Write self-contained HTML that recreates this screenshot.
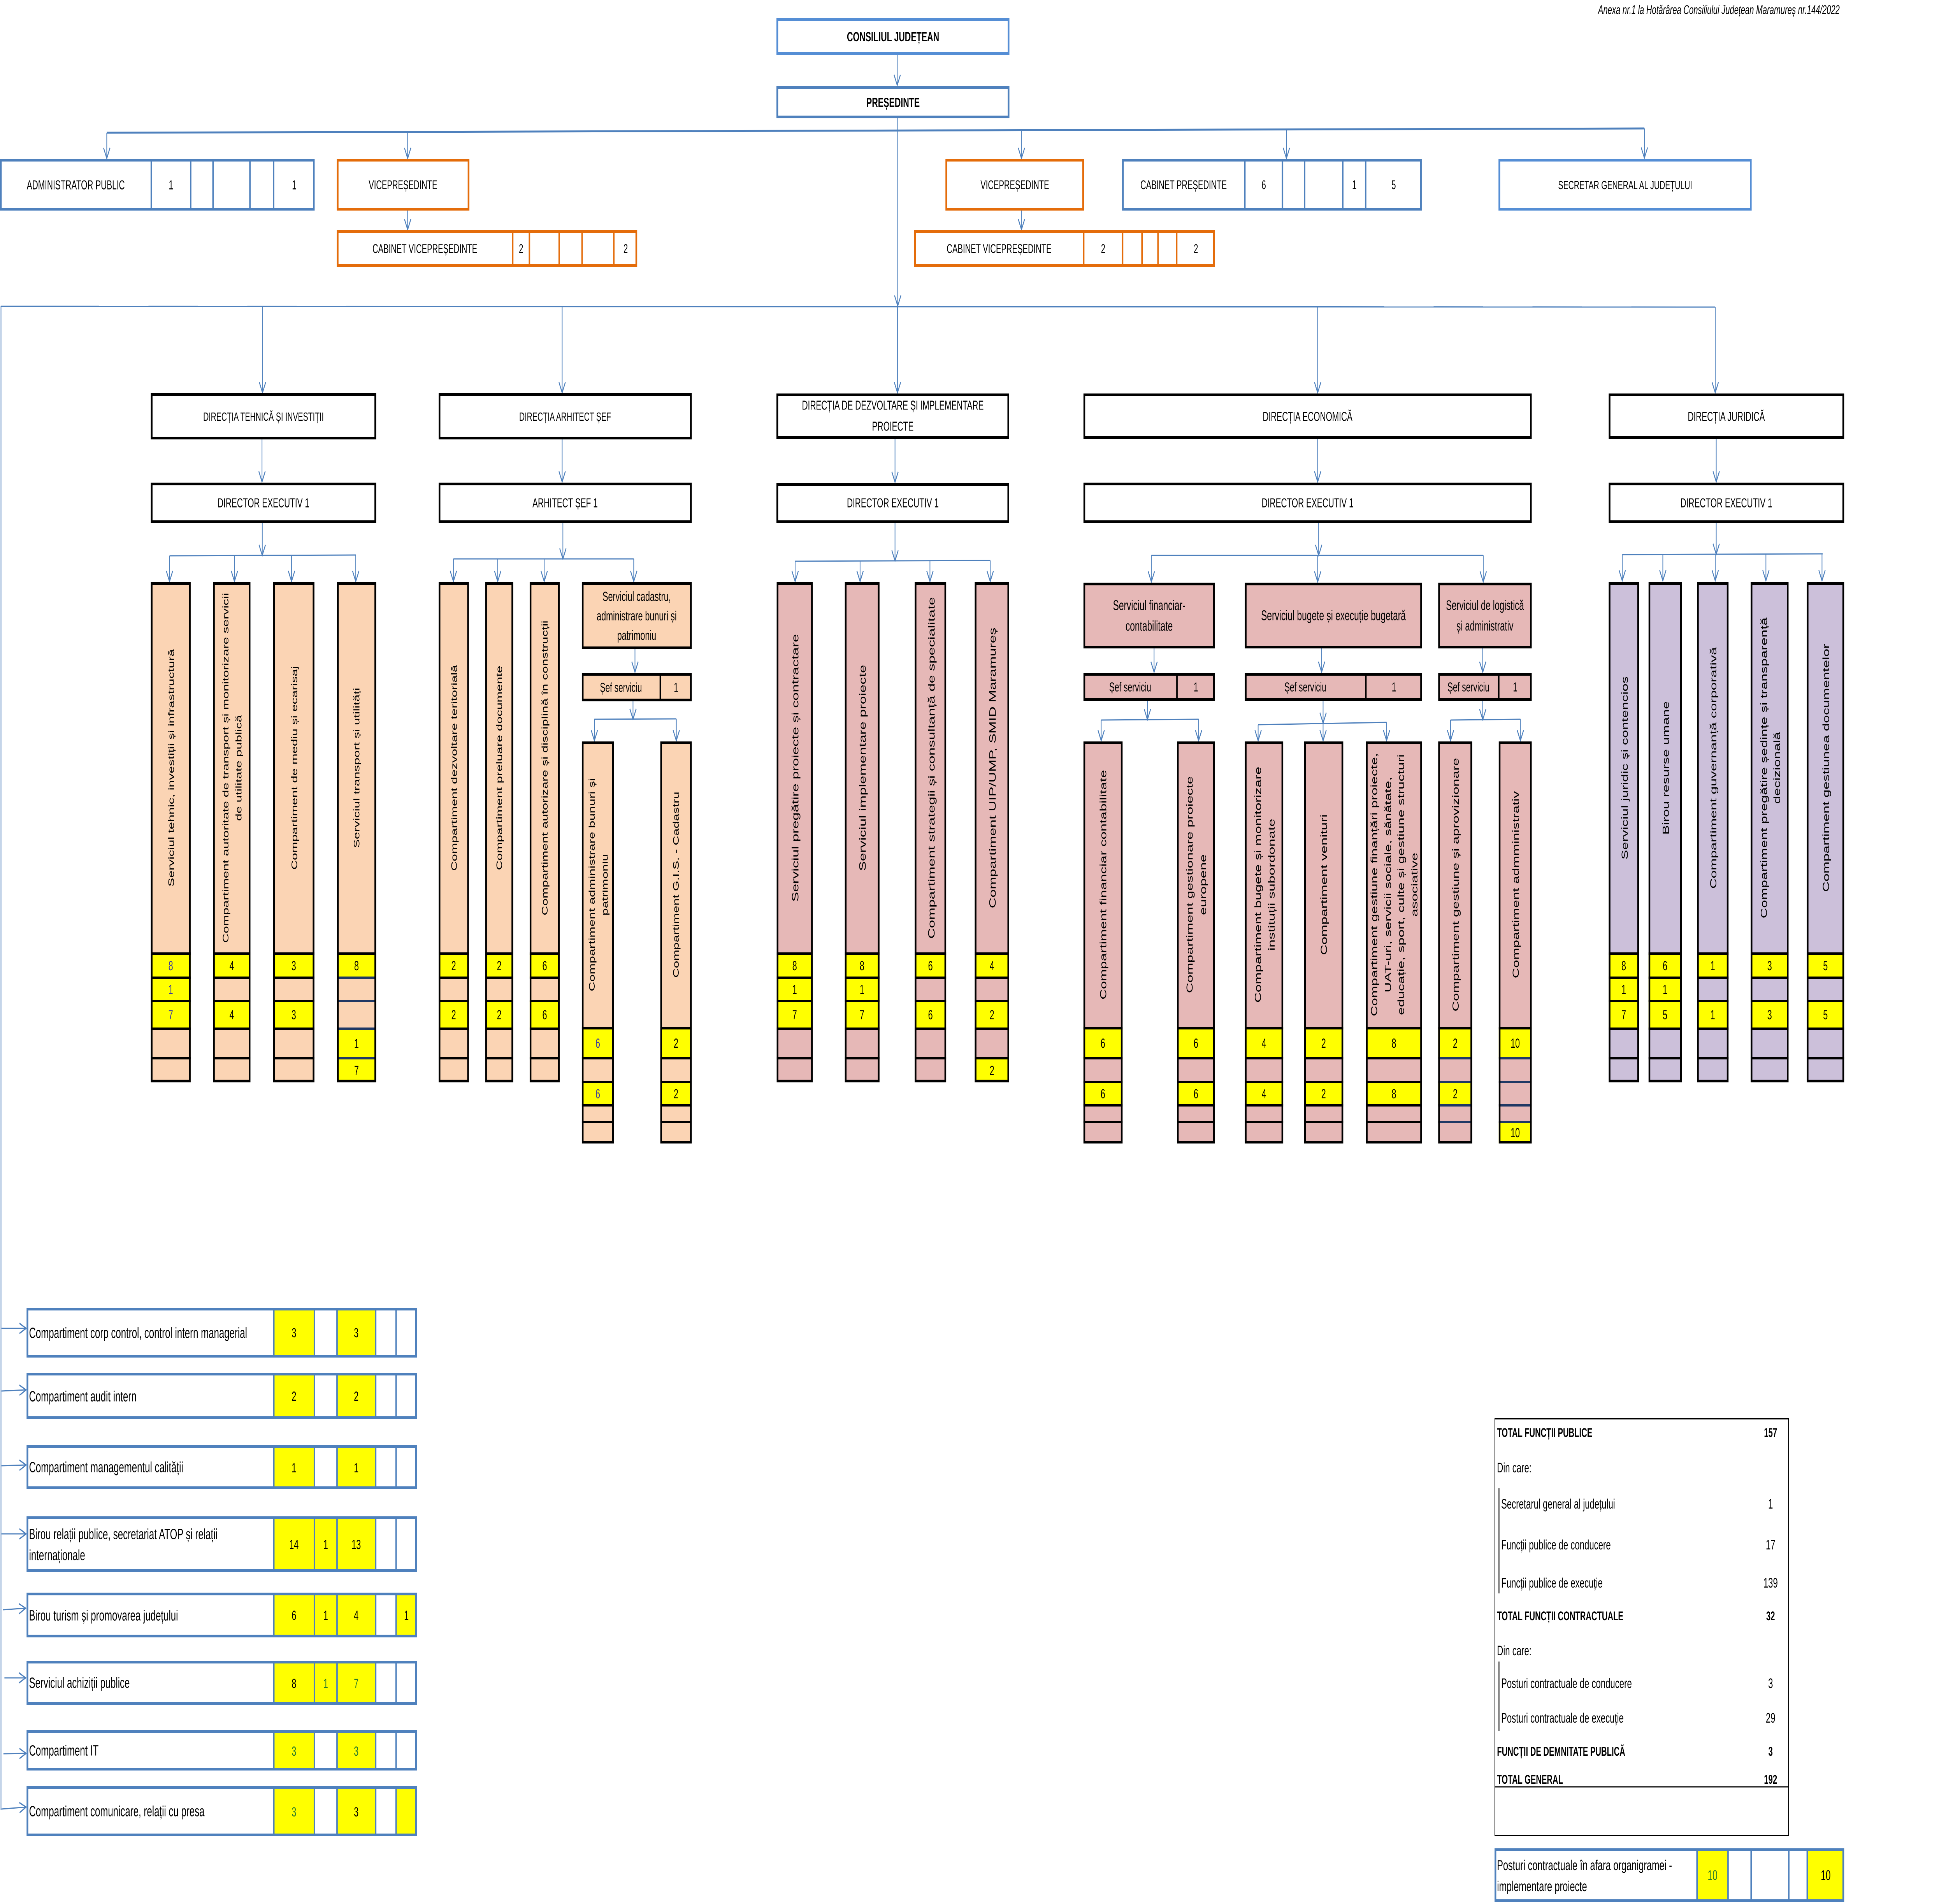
<!DOCTYPE html>
<html>
<head>
<meta charset="utf-8">
<style>
html,body{margin:0;padding:0;background:#fff;overflow:hidden;width:100%;height:100%;}
svg{display:block;width:100vw;height:100vh;}
text{font-family:"Liberation Sans",sans-serif;fill:#000;}
.m{text-anchor:middle;}
</style>
</head>
<body>
<svg xmlns="http://www.w3.org/2000/svg" viewBox="0 0 7910 4892" preserveAspectRatio="none">
<defs>
<marker id="ar" viewBox="0 0 40 30" markerWidth="40" markerHeight="30" refX="31" refY="15" orient="auto" markerUnits="userSpaceOnUse">
<path d="M4 2 L31 15 L4 28" fill="none" stroke="#4f81bd" stroke-width="3.5"/>
</marker>
</defs>
<rect x="0" y="0" width="7910" height="4892" fill="#fff"/>

<!-- annex -->
<text x="7478" y="36" font-size="32" font-style="italic" text-anchor="end">Anexa nr.1  la Hotărârea Consiliului Județean Maramureș nr.144/2022</text>

<!-- CONNECTORS -->
<g stroke="#4f81bd" stroke-width="3" fill="none">
<line x1="3647" y1="141" x2="3647" y2="219" marker-end="url(#ar)"/>
<line x1="3649" y1="304" x2="3649" y2="786" marker-end="url(#ar)"/>
<line x1="3648" y1="789" x2="3648" y2="1009" marker-end="url(#ar)"/>
<line x1="434" y1="341" x2="6684" y2="330" stroke-width="5"/>
<line x1="434" y1="341" x2="434" y2="407" marker-end="url(#ar)"/>
<line x1="1657" y1="339" x2="1657" y2="407" marker-end="url(#ar)"/>
<line x1="4152" y1="335" x2="4152" y2="407" marker-end="url(#ar)"/>
<line x1="5229" y1="333" x2="5229" y2="407" marker-end="url(#ar)"/>
<line x1="6684" y1="330" x2="6684" y2="406" marker-end="url(#ar)"/>
<line x1="1657" y1="541" x2="1657" y2="590" marker-end="url(#ar)"/>
<line x1="4152" y1="541" x2="4152" y2="590" marker-end="url(#ar)"/>

<line x1="3" y1="787" x2="6972" y2="789"/>
<line x1="4" y1="787" x2="4" y2="4650"/>
<line x1="1067" y1="787" x2="1067" y2="1009" marker-end="url(#ar)"/>
<line x1="2285" y1="787" x2="2285" y2="1009" marker-end="url(#ar)"/>
<line x1="5356" y1="788" x2="5356" y2="1009" marker-end="url(#ar)"/>
<line x1="6972" y1="789" x2="6972" y2="1009" marker-end="url(#ar)"/>

<!-- tehnica -->
<line x1="1065" y1="1129" x2="1065" y2="1238" marker-end="url(#ar)"/>
<line x1="1066" y1="1344" x2="1066" y2="1427" marker-end="url(#ar)"/>
<line x1="689" y1="1428" x2="1446" y2="1426"/>
<line x1="689" y1="1428" x2="689" y2="1494" marker-end="url(#ar)"/>
<line x1="953" y1="1428" x2="953" y2="1494" marker-end="url(#ar)"/>
<line x1="1185" y1="1427" x2="1185" y2="1494" marker-end="url(#ar)"/>
<line x1="1446" y1="1426" x2="1446" y2="1494" marker-end="url(#ar)"/>
<!-- arhitect -->
<line x1="2285" y1="1129" x2="2285" y2="1238" marker-end="url(#ar)"/>
<line x1="2288" y1="1344" x2="2288" y2="1436" marker-end="url(#ar)"/>
<line x1="1843" y1="1436" x2="2576" y2="1436"/>
<line x1="1843" y1="1436" x2="1843" y2="1494" marker-end="url(#ar)"/>
<line x1="2023" y1="1436" x2="2023" y2="1494" marker-end="url(#ar)"/>
<line x1="2212" y1="1436" x2="2212" y2="1494" marker-end="url(#ar)"/>
<line x1="2576" y1="1436" x2="2576" y2="1494" marker-end="url(#ar)"/>
<line x1="2581" y1="1668" x2="2581" y2="1727" marker-end="url(#ar)"/>
<line x1="2573" y1="1802" x2="2573" y2="1848" marker-end="url(#ar)"/>
<line x1="2416" y1="1848" x2="2749" y2="1847"/>
<line x1="2416" y1="1848" x2="2416" y2="1903" marker-end="url(#ar)"/>
<line x1="2749" y1="1847" x2="2749" y2="1903" marker-end="url(#ar)"/>
<!-- dezvoltare -->
<line x1="3638" y1="1128" x2="3638" y2="1239" marker-end="url(#ar)"/>
<line x1="3638" y1="1344" x2="3638" y2="1441" marker-end="url(#ar)"/>
<line x1="3232" y1="1442" x2="4025" y2="1440"/>
<line x1="3232" y1="1442" x2="3232" y2="1494" marker-end="url(#ar)"/>
<line x1="3496" y1="1441" x2="3496" y2="1494" marker-end="url(#ar)"/>
<line x1="3780" y1="1441" x2="3780" y2="1494" marker-end="url(#ar)"/>
<line x1="4025" y1="1440" x2="4025" y2="1494" marker-end="url(#ar)"/>
<!-- economica -->
<line x1="5356" y1="1127" x2="5356" y2="1238" marker-end="url(#ar)"/>
<line x1="5360" y1="1344" x2="5360" y2="1427" marker-end="url(#ar)"/>
<line x1="4680" y1="1427" x2="6029" y2="1427"/>
<line x1="4680" y1="1427" x2="4680" y2="1495" marker-end="url(#ar)"/>
<line x1="5356" y1="1427" x2="5356" y2="1495" marker-end="url(#ar)"/>
<line x1="6029" y1="1427" x2="6029" y2="1495" marker-end="url(#ar)"/>
<line x1="4691" y1="1666" x2="4691" y2="1727" marker-end="url(#ar)"/>
<line x1="5372" y1="1666" x2="5372" y2="1727" marker-end="url(#ar)"/>
<line x1="6027" y1="1666" x2="6027" y2="1727" marker-end="url(#ar)"/>
<line x1="4664" y1="1801" x2="4664" y2="1849" marker-end="url(#ar)"/>
<line x1="4476" y1="1850" x2="4872" y2="1848"/>
<line x1="4476" y1="1850" x2="4476" y2="1903" marker-end="url(#ar)"/>
<line x1="4872" y1="1848" x2="4872" y2="1903" marker-end="url(#ar)"/>
<line x1="5378" y1="1801" x2="5378" y2="1858" marker-end="url(#ar)"/>
<line x1="5114" y1="1862" x2="5636" y2="1856"/>
<line x1="5114" y1="1862" x2="5114" y2="1903" marker-end="url(#ar)"/>
<line x1="5378" y1="1859" x2="5378" y2="1903" marker-end="url(#ar)"/>
<line x1="5636" y1="1856" x2="5636" y2="1903" marker-end="url(#ar)"/>
<line x1="6027" y1="1801" x2="6027" y2="1849" marker-end="url(#ar)"/>
<line x1="5896" y1="1850" x2="6180" y2="1848"/>
<line x1="5896" y1="1850" x2="5896" y2="1903" marker-end="url(#ar)"/>
<line x1="6180" y1="1848" x2="6180" y2="1903" marker-end="url(#ar)"/>
<!-- juridica -->
<line x1="6976" y1="1128" x2="6976" y2="1238" marker-end="url(#ar)"/>
<line x1="6976" y1="1344" x2="6976" y2="1424" marker-end="url(#ar)"/>
<line x1="6594" y1="1425" x2="7409" y2="1423"/>
<line x1="6594" y1="1425" x2="6594" y2="1492" marker-end="url(#ar)"/>
<line x1="6759" y1="1425" x2="6759" y2="1492" marker-end="url(#ar)"/>
<line x1="6972" y1="1424" x2="6972" y2="1492" marker-end="url(#ar)"/>
<line x1="7178" y1="1424" x2="7178" y2="1492" marker-end="url(#ar)"/>
<line x1="7406" y1="1423" x2="7406" y2="1492" marker-end="url(#ar)"/>
<!-- left arrows -->
<line x1="6" y1="3413" x2="106" y2="3413" marker-end="url(#ar)"/>
<line x1="6" y1="3574" x2="106" y2="3571" marker-end="url(#ar)"/>
<line x1="6" y1="3766" x2="106" y2="3764" marker-end="url(#ar)"/>
<line x1="6" y1="3941" x2="106" y2="3941" marker-end="url(#ar)"/>
<line x1="12" y1="4136" x2="104" y2="4132" marker-end="url(#ar)"/>
<line x1="18" y1="4311" x2="104" y2="4311" marker-end="url(#ar)"/>
<line x1="14" y1="4506" x2="106" y2="4505" marker-end="url(#ar)"/>
<line x1="6" y1="4648" x2="106" y2="4643" marker-end="url(#ar)"/>
</g>

<!-- TOP BOXES -->
<rect x="3159.5" y="50.5" width="940" height="87" fill="#fff" stroke="#558ed5" stroke-width="7"/>
<text class="m" x="3630" y="94" dy=".35em" font-size="34" font-weight="bold">CONSILIUL JUDEȚEAN</text>
<rect x="3159.5" y="224.5" width="940" height="76" fill="#fff" stroke="#4f81bd" stroke-width="7"/>
<text class="m" x="3630" y="263" dy=".35em" font-size="34" font-weight="bold">PREȘEDINTE</text>

<rect x="3.5" y="411.5" width="1272" height="126" fill="#fff" stroke="#4f81bd" stroke-width="7"/>
<path d="M615 408V541M775 408V541M866 408V541M1016 408V541M1112 408V541" stroke="#4f81bd" stroke-width="6"/>
<text class="m" x="308" y="475" dy=".35em" font-size="33">ADMINISTRATOR PUBLIC</text>
<text class="m" x="695" y="475" dy=".35em" font-size="33">1</text>
<text class="m" x="1196" y="475" dy=".35em" font-size="33">1</text>

<rect x="1372.5" y="411.5" width="532" height="126" fill="#fff" stroke="#e46c0a" stroke-width="7"/>
<text class="m" x="1638" y="475" dy=".35em" font-size="32">VICEPREȘEDINTE</text>
<rect x="1372.5" y="594.5" width="1214" height="88" fill="#fff" stroke="#e46c0a" stroke-width="7"/>
<path d="M2084 591V686M2152 591V686M2273 591V686M2366 591V686M2495 591V686" stroke="#e46c0a" stroke-width="6"/>
<text class="m" x="1727" y="639" dy=".35em" font-size="32">CABINET VICEPREȘEDINTE</text>
<text class="m" x="2118" y="639" dy=".35em" font-size="32">2</text>
<text class="m" x="2543" y="639" dy=".35em" font-size="32">2</text>

<rect x="3846.5" y="411.5" width="556" height="126" fill="#fff" stroke="#e46c0a" stroke-width="7"/>
<text class="m" x="4125" y="475" dy=".35em" font-size="32">VICEPREȘEDINTE</text>
<rect x="3719.5" y="594.5" width="1215" height="88" fill="#fff" stroke="#e46c0a" stroke-width="7"/>
<path d="M4405 591V686M4563 591V686M4642 591V686M4707 591V686M4783 591V686" stroke="#e46c0a" stroke-width="6"/>
<text class="m" x="4061" y="639" dy=".35em" font-size="32">CABINET VICEPREȘEDINTE</text>
<text class="m" x="4484" y="639" dy=".35em" font-size="32">2</text>
<text class="m" x="4861" y="639" dy=".35em" font-size="32">2</text>

<rect x="4564.5" y="411.5" width="1211" height="126" fill="#fff" stroke="#4f81bd" stroke-width="7"/>
<path d="M5060 408V541M5213 408V541M5303 408V541M5458 408V541M5551 408V541" stroke="#4f81bd" stroke-width="6"/>
<text class="m" x="4811" y="475" dy=".35em" font-size="32">CABINET PREȘEDINTE</text>
<text class="m" x="5137" y="475" dy=".35em" font-size="32">6</text>
<text class="m" x="5505" y="475" dy=".35em" font-size="32">1</text>
<text class="m" x="5665" y="475" dy=".35em" font-size="32">5</text>

<rect x="6094.5" y="411.5" width="1022" height="126" fill="#fff" stroke="#558ed5" stroke-width="7"/>
<text class="m" x="6606" y="475" dy=".35em" font-size="31">SECRETAR GENERAL AL JUDEȚULUI</text>

<!-- DIRECTION HEADERS -->
<g fill="#fff" stroke="#000" stroke-width="7">
<rect x="616.5" y="1013.5" width="909" height="112"/>
<rect x="616.5" y="1243.5" width="909" height="97"/>
<rect x="1786.5" y="1013.5" width="1022" height="112"/>
<rect x="1786.5" y="1243.5" width="1022" height="97"/>
<rect x="3159.5" y="1014.5" width="939" height="110"/>
<rect x="3159.5" y="1244.5" width="939" height="96"/>
<rect x="4407.5" y="1014.5" width="1815" height="110"/>
<rect x="4407.5" y="1243.5" width="1815" height="97"/>
<rect x="6542.5" y="1014.5" width="950" height="110"/>
<rect x="6542.5" y="1243.5" width="950" height="97"/>
</g>
<text class="m" x="1071" y="1070" dy=".35em" font-size="31">DIRECȚIA TEHNICĂ ȘI INVESTIȚII</text>
<text class="m" x="1071" y="1292" dy=".35em" font-size="33">DIRECTOR EXECUTIV 1</text>
<text class="m" x="2297" y="1070" dy=".35em" font-size="31">DIRECȚIA ARHITECT ȘEF</text>
<text class="m" x="2297" y="1292" dy=".35em" font-size="33">ARHITECT ȘEF 1</text>
<text class="m" x="3629" y="1041" dy=".35em" font-size="33">DIRECȚIA DE DEZVOLTARE ȘI IMPLEMENTARE</text>
<text class="m" x="3629" y="1095" dy=".35em" font-size="33">PROIECTE</text>
<text class="m" x="3629" y="1292" dy=".35em" font-size="33">DIRECTOR EXECUTIV 1</text>
<text class="m" x="5315" y="1070" dy=".35em" font-size="33">DIRECȚIA ECONOMICĂ</text>
<text class="m" x="5315" y="1292" dy=".35em" font-size="33">DIRECTOR EXECUTIV 1</text>
<text class="m" x="7017" y="1070" dy=".35em" font-size="33">DIRECȚIA JURIDICĂ</text>
<text class="m" x="7017" y="1292" dy=".35em" font-size="33">DIRECTOR EXECUTIV 1</text>

<!-- ARHITECT cadastru -->
<rect x="2368.5" y="1499.5" width="440" height="165" fill="#fbd4b4" stroke="#000" stroke-width="7"/>
<text class="m" x="2588" y="1532" dy=".35em" font-size="34">Serviciul cadastru,</text>
<text class="m" x="2588" y="1582" dy=".35em" font-size="34">administrare bunuri și</text>
<text class="m" x="2588" y="1632" dy=".35em" font-size="34">patrimoniu</text>
<rect x="2368.5" y="1732.5" width="440" height="66" fill="#fbd4b4" stroke="#000" stroke-width="7"/>
<path d="M2684 1729V1802" stroke="#000" stroke-width="6"/>
<text class="m" x="2524" y="1766" dy=".35em" font-size="33">Șef serviciu</text>
<text class="m" x="2748" y="1766" dy=".35em" font-size="33">1</text>

<!-- ECONOMICA services -->
<g fill="#e6b8b7" stroke="#000" stroke-width="7">
<rect x="4407.5" y="1500.5" width="527" height="162"/>
<rect x="5063.5" y="1500.5" width="713" height="162"/>
<rect x="5849.5" y="1500.5" width="373" height="162"/>
<rect x="4407.5" y="1732.5" width="527" height="65"/>
<rect x="5063.5" y="1732.5" width="713" height="65"/>
<rect x="5849.5" y="1732.5" width="373" height="65"/>
</g>
<path d="M4784 1729V1801M5552 1729V1801M6092 1729V1801" stroke="#000" stroke-width="6"/>
<text class="m" x="4671" y="1555" dy=".35em" font-size="36">Serviciul financiar-</text>
<text class="m" x="4671" y="1608" dy=".35em" font-size="36">contabilitate</text>
<text class="m" x="5420" y="1581" dy=".35em" font-size="36">Serviciul bugete și execuție bugetară</text>
<text class="m" x="6036" y="1555" dy=".35em" font-size="35">Serviciul de logistică</text>
<text class="m" x="6036" y="1608" dy=".35em" font-size="35">și administrativ</text>
<text class="m" x="4594" y="1765" dy=".35em" font-size="33">Șef serviciu</text>
<text class="m" x="4861" y="1765" dy=".35em" font-size="33">1</text>
<text class="m" x="5306" y="1765" dy=".35em" font-size="33">Șef serviciu</text>
<text class="m" x="5666" y="1765" dy=".35em" font-size="33">1</text>
<text class="m" x="5969" y="1765" dy=".35em" font-size="33">Șef serviciu</text>
<text class="m" x="6159" y="1765" dy=".35em" font-size="33">1</text>

<!-- ===== COLUMNS GROUP A (T=1496,B=2781) ===== -->
<!-- c1 -->
<rect x="613" y="1496" width="162" height="1285" fill="#fbd4b4"/>
<rect x="613" y="2450" width="162" height="193" fill="#ff0"/>
<path d="M613 2450H775M613 2512H775M613 2572H775M613 2643H775M613 2719H775" stroke="#000" stroke-width="6"/>
<rect x="616.5" y="1499.5" width="155" height="1278" fill="none" stroke="#000" stroke-width="7"/>
<text class="m" font-size="34" transform="translate(695,1973) rotate(-90)" dy=".35em">Serviciul tehnic, investiții și infrastructură</text>
<g class="m" font-size="34"><text x="694" y="2481" dy=".35em" style="fill:#3a3aa0">8</text><text x="694" y="2542" dy=".35em" style="fill:#3a3aa0">1</text><text x="694" y="2607" dy=".35em" style="fill:#3a3aa0">7</text></g>
<!-- c2 -->
<rect x="866" y="1496" width="152" height="1285" fill="#fbd4b4"/>
<rect x="866" y="2450" width="152" height="62" fill="#ff0"/>
<rect x="866" y="2572" width="152" height="71" fill="#ff0"/>
<path d="M866 2450H1018M866 2512H1018M866 2572H1018M866 2643H1018M866 2719H1018" stroke="#000" stroke-width="6"/>
<rect x="869.5" y="1499.5" width="145" height="1278" fill="none" stroke="#000" stroke-width="7"/>
<text class="m" font-size="34" transform="translate(917,1973) rotate(-90)" dy=".35em">Compartiment autoritate de transport și monitorizare servicii</text>
<text class="m" font-size="34" transform="translate(970,1973) rotate(-90)" dy=".35em">de utilitate publică</text>
<g class="m" font-size="34"><text x="942" y="2481" dy=".35em">4</text><text x="942" y="2607" dy=".35em">4</text></g>
<!-- c3 -->
<rect x="1110" y="1496" width="168" height="1285" fill="#fbd4b4"/>
<rect x="1110" y="2450" width="168" height="62" fill="#ff0"/>
<rect x="1110" y="2572" width="168" height="71" fill="#ff0"/>
<path d="M1110 2450H1278M1110 2512H1278M1110 2572H1278M1110 2643H1278M1110 2719H1278" stroke="#000" stroke-width="6"/>
<rect x="1113.5" y="1499.5" width="161" height="1278" fill="none" stroke="#000" stroke-width="7"/>
<text class="m" font-size="34" transform="translate(1196,1973) rotate(-90)" dy=".35em">Compartiment de mediu și ecarisaj</text>
<g class="m" font-size="34"><text x="1194" y="2481" dy=".35em">3</text><text x="1194" y="2607" dy=".35em">3</text></g>
<!-- c4 -->
<rect x="1370" y="1496" width="159" height="1285" fill="#fbd4b4"/>
<rect x="1370" y="2450" width="159" height="62" fill="#ff0"/>
<rect x="1370" y="2643" width="159" height="138" fill="#ff0"/>
<path d="M1370 2450H1529" stroke="#000" stroke-width="6"/>
<path d="M1370 2512H1529M1370 2572H1529M1370 2643H1529M1370 2719H1529" stroke="#1f3864" stroke-width="6"/>
<rect x="1373.5" y="1499.5" width="152" height="1278" fill="none" stroke="#000" stroke-width="7"/>
<text class="m" font-size="34" transform="translate(1449,1973) rotate(-90)" dy=".35em">Serviciul  transport și utilități</text>
<g class="m" font-size="34"><text x="1449" y="2481" dy=".35em">8</text><text x="1449" y="2681" dy=".35em">1</text><text x="1449" y="2750" dy=".35em">7</text></g>
<!-- a1 -->
<rect x="1783" y="1496" width="123" height="1285" fill="#fbd4b4"/>
<rect x="1783" y="2450" width="123" height="62" fill="#ff0"/>
<rect x="1783" y="2572" width="123" height="71" fill="#ff0"/>
<path d="M1783 2450H1906M1783 2512H1906M1783 2572H1906M1783 2643H1906M1783 2719H1906" stroke="#000" stroke-width="6"/>
<rect x="1786.5" y="1499.5" width="116" height="1278" fill="none" stroke="#000" stroke-width="7"/>
<text class="m" font-size="34" transform="translate(1845,1973) rotate(-90)" dy=".35em">Compartiment dezvoltare teritorială</text>
<g class="m" font-size="34"><text x="1844" y="2481" dy=".35em">2</text><text x="1844" y="2607" dy=".35em">2</text></g>
<!-- a2 -->
<rect x="1972" y="1496" width="114" height="1285" fill="#fbd4b4"/>
<rect x="1972" y="2450" width="114" height="62" fill="#ff0"/>
<rect x="1972" y="2572" width="114" height="71" fill="#ff0"/>
<path d="M1972 2450H2086M1972 2512H2086M1972 2572H2086M1972 2643H2086M1972 2719H2086" stroke="#000" stroke-width="6"/>
<rect x="1975.5" y="1499.5" width="107" height="1278" fill="none" stroke="#000" stroke-width="7"/>
<text class="m" font-size="34" transform="translate(2029,1973) rotate(-90)" dy=".35em">Compartiment preluare documente</text>
<g class="m" font-size="34"><text x="2029" y="2481" dy=".35em">2</text><text x="2029" y="2607" dy=".35em">2</text></g>
<!-- a3 -->
<rect x="2153" y="1496" width="122" height="1285" fill="#fbd4b4"/>
<rect x="2153" y="2450" width="122" height="62" fill="#ff0"/>
<rect x="2153" y="2572" width="122" height="71" fill="#ff0"/>
<path d="M2153 2450H2275M2153 2512H2275M2153 2572H2275M2153 2643H2275M2153 2719H2275" stroke="#000" stroke-width="6"/>
<rect x="2156.5" y="1499.5" width="115" height="1278" fill="none" stroke="#000" stroke-width="7"/>
<text class="m" font-size="34" transform="translate(2214,1973) rotate(-90)" dy=".35em">Compartiment autorizare și disciplină în construcții</text>
<g class="m" font-size="34"><text x="2214" y="2481" dy=".35em">6</text><text x="2214" y="2607" dy=".35em">6</text></g>

<!-- d1 -->
<rect x="3157" y="1496" width="147" height="1285" fill="#e6b8b7"/>
<rect x="3157" y="2450" width="147" height="193" fill="#ff0"/>
<path d="M3157 2450H3304M3157 2512H3304M3157 2572H3304M3157 2643H3304M3157 2719H3304" stroke="#000" stroke-width="6"/>
<rect x="3160.5" y="1499.5" width="140" height="1278" fill="none" stroke="#000" stroke-width="7"/>
<text class="m" font-size="38" transform="translate(3232,1973) rotate(-90)" dy=".35em">Serviciul pregătire proiecte și contractare</text>
<g class="m" font-size="34"><text x="3230" y="2481" dy=".35em">8</text><text x="3230" y="2542" dy=".35em">1</text><text x="3230" y="2607" dy=".35em">7</text></g>
<!-- d2 -->
<rect x="3434" y="1496" width="141" height="1285" fill="#e6b8b7"/>
<rect x="3434" y="2450" width="141" height="193" fill="#ff0"/>
<path d="M3434 2450H3575M3434 2512H3575M3434 2572H3575M3434 2643H3575M3434 2719H3575" stroke="#000" stroke-width="6"/>
<rect x="3437.5" y="1499.5" width="134" height="1278" fill="none" stroke="#000" stroke-width="7"/>
<text class="m" font-size="38" transform="translate(3506,1973) rotate(-90)" dy=".35em">Serviciul implementare proiecte</text>
<g class="m" font-size="34"><text x="3504" y="2481" dy=".35em">8</text><text x="3504" y="2542" dy=".35em">1</text><text x="3504" y="2607" dy=".35em">7</text></g>
<!-- d3 -->
<rect x="3718" y="1496" width="128" height="1285" fill="#e6b8b7"/>
<rect x="3718" y="2450" width="128" height="62" fill="#ff0"/>
<rect x="3718" y="2572" width="128" height="71" fill="#ff0"/>
<path d="M3718 2450H3846M3718 2512H3846M3718 2572H3846M3718 2643H3846M3718 2719H3846" stroke="#000" stroke-width="6"/>
<rect x="3721.5" y="1499.5" width="121" height="1278" fill="none" stroke="#000" stroke-width="7"/>
<text class="m" font-size="38" transform="translate(3786,1973) rotate(-90)" dy=".35em">Compartiment strategii și consultanță de specialitate</text>
<g class="m" font-size="34"><text x="3782" y="2481" dy=".35em">6</text><text x="3782" y="2607" dy=".35em">6</text></g>
<!-- d4 -->
<rect x="3962" y="1496" width="140" height="1285" fill="#e6b8b7"/>
<rect x="3962" y="2450" width="140" height="62" fill="#ff0"/>
<rect x="3962" y="2572" width="140" height="71" fill="#ff0"/>
<rect x="3962" y="2719" width="140" height="62" fill="#ff0"/>
<path d="M3962 2450H4102M3962 2512H4102M3962 2572H4102M3962 2643H4102M3962 2719H4102" stroke="#000" stroke-width="6"/>
<rect x="3965.5" y="1499.5" width="133" height="1278" fill="none" stroke="#000" stroke-width="7"/>
<text class="m" font-size="38" transform="translate(4034,1973) rotate(-90)" dy=".35em">Compartiment UIP/UMP, SMID Maramureș</text>
<g class="m" font-size="34"><text x="4032" y="2481" dy=".35em">4</text><text x="4032" y="2607" dy=".35em">2</text><text x="4032" y="2750" dy=".35em">2</text></g>

<!-- j1 -->
<rect x="6539" y="1496" width="123" height="1285" fill="#ccc0da"/>
<rect x="6539" y="2450" width="123" height="193" fill="#ff0"/>
<path d="M6539 2450H6662M6539 2512H6662M6539 2572H6662M6539 2643H6662M6539 2719H6662" stroke="#000" stroke-width="6"/>
<rect x="6542.5" y="1499.5" width="116" height="1278" fill="none" stroke="#000" stroke-width="7"/>
<text class="m" font-size="37" transform="translate(6604,1973) rotate(-90)" dy=".35em">Serviciul juridic și contencios</text>
<g class="m" font-size="34"><text x="6600" y="2481" dy=".35em">8</text><text x="6600" y="2542" dy=".35em">1</text><text x="6600" y="2607" dy=".35em">7</text></g>
<!-- j2 -->
<rect x="6701" y="1496" width="135" height="1285" fill="#ccc0da"/>
<rect x="6701" y="2450" width="135" height="193" fill="#ff0"/>
<path d="M6701 2450H6836M6701 2512H6836M6701 2572H6836M6701 2643H6836M6701 2719H6836" stroke="#000" stroke-width="6"/>
<rect x="6704.5" y="1499.5" width="128" height="1278" fill="none" stroke="#000" stroke-width="7"/>
<text class="m" font-size="37" transform="translate(6771,1973) rotate(-90)" dy=".35em">Birou resurse umane</text>
<g class="m" font-size="34"><text x="6768" y="2481" dy=".35em">6</text><text x="6768" y="2542" dy=".35em">1</text><text x="6768" y="2607" dy=".35em">5</text></g>
<!-- j3 -->
<rect x="6898" y="1496" width="128" height="1285" fill="#ccc0da"/>
<rect x="6898" y="2450" width="128" height="62" fill="#ff0"/>
<rect x="6898" y="2572" width="128" height="71" fill="#ff0"/>
<path d="M6898 2450H7026M6898 2512H7026M6898 2572H7026M6898 2643H7026M6898 2719H7026" stroke="#000" stroke-width="6"/>
<rect x="6901.5" y="1499.5" width="121" height="1278" fill="none" stroke="#000" stroke-width="7"/>
<text class="m" font-size="37" transform="translate(6964,1973) rotate(-90)" dy=".35em">Compartiment guvernanță corporativă</text>
<g class="m" font-size="34"><text x="6962" y="2481" dy=".35em">1</text><text x="6962" y="2607" dy=".35em">1</text></g>
<!-- j4 -->
<rect x="7116" y="1496" width="154" height="1285" fill="#ccc0da"/>
<rect x="7116" y="2450" width="154" height="62" fill="#ff0"/>
<rect x="7116" y="2572" width="154" height="71" fill="#ff0"/>
<path d="M7116 2450H7270M7116 2512H7270M7116 2572H7270M7116 2643H7270M7116 2719H7270" stroke="#000" stroke-width="6"/>
<rect x="7119.5" y="1499.5" width="147" height="1278" fill="none" stroke="#000" stroke-width="7"/>
<text class="m" font-size="37" transform="translate(7169,1973) rotate(-90)" dy=".35em">Compartiment pregătire ședințe și transparență</text>
<text class="m" font-size="37" transform="translate(7222,1973) rotate(-90)" dy=".35em">decizională</text>
<g class="m" font-size="34"><text x="7193" y="2481" dy=".35em">3</text><text x="7193" y="2607" dy=".35em">3</text></g>
<!-- j5 -->
<rect x="7344" y="1496" width="152" height="1285" fill="#ccc0da"/>
<rect x="7344" y="2450" width="152" height="62" fill="#ff0"/>
<rect x="7344" y="2572" width="152" height="71" fill="#ff0"/>
<path d="M7344 2450H7496M7344 2512H7496M7344 2572H7496M7344 2643H7496M7344 2719H7496" stroke="#000" stroke-width="6"/>
<rect x="7347.5" y="1499.5" width="145" height="1278" fill="none" stroke="#000" stroke-width="7"/>
<text class="m" font-size="37" transform="translate(7422,1973) rotate(-90)" dy=".35em">Compartiment gestiunea documentelor</text>
<g class="m" font-size="34"><text x="7420" y="2481" dy=".35em">5</text><text x="7420" y="2607" dy=".35em">5</text></g>

<!-- ===== COLUMNS GROUP B (T=1905,B=2938) ===== -->
<!-- b1 -->
<rect x="2365" y="1905" width="130" height="1033" fill="#fbd4b4"/>
<rect x="2365" y="2642" width="130" height="77" fill="#ff0"/>
<rect x="2365" y="2780" width="130" height="60" fill="#ff0"/>
<path d="M2365 2642H2495M2365 2719H2495M2365 2780H2495M2365 2840H2495M2365 2883H2495" stroke="#000" stroke-width="6"/>
<rect x="2368.5" y="1908.5" width="123" height="1026" fill="none" stroke="#000" stroke-width="7"/>
<text class="m" font-size="34" transform="translate(2405,2273) rotate(-90)" dy=".35em">Compartiment administrare bunuri și</text>
<text class="m" font-size="34" transform="translate(2458,2273) rotate(-90)" dy=".35em">patrimoniu</text>
<g class="m" font-size="34"><text x="2430" y="2680" dy=".35em" style="fill:#3a3aa0">6</text><text x="2430" y="2810" dy=".35em" style="fill:#3a3aa0">6</text></g>
<!-- b2 -->
<rect x="2684" y="1905" width="128" height="1033" fill="#fbd4b4"/>
<rect x="2684" y="2642" width="128" height="77" fill="#ff0"/>
<rect x="2684" y="2780" width="128" height="60" fill="#ff0"/>
<path d="M2684 2642H2812M2684 2719H2812M2684 2780H2812M2684 2840H2812M2684 2883H2812" stroke="#000" stroke-width="6"/>
<rect x="2687.5" y="1908.5" width="121" height="1026" fill="none" stroke="#000" stroke-width="7"/>
<text class="m" font-size="34" transform="translate(2747,2273) rotate(-90)" dy=".35em">Compartiment  G.I.S. - Cadastru</text>
<g class="m" font-size="34"><text x="2748" y="2680" dy=".35em">2</text><text x="2748" y="2810" dy=".35em">2</text></g>

<!-- e1 -->
<rect x="4404" y="1905" width="159" height="1033" fill="#e6b8b7"/>
<rect x="4404" y="2642" width="159" height="77" fill="#ff0"/>
<rect x="4404" y="2780" width="159" height="60" fill="#ff0"/>
<path d="M4404 2642H4563M4404 2719H4563M4404 2780H4563M4404 2840H4563M4404 2883H4563" stroke="#000" stroke-width="6"/>
<rect x="4407.5" y="1908.5" width="152" height="1026" fill="none" stroke="#000" stroke-width="7"/>
<text class="m" font-size="37" transform="translate(4484,2273) rotate(-90)" dy=".35em">Compartiment financiar contabilitate</text>
<g class="m" font-size="34"><text x="4483" y="2680" dy=".35em">6</text><text x="4483" y="2810" dy=".35em">6</text></g>
<!-- e2 -->
<rect x="4784" y="1905" width="154" height="1033" fill="#e6b8b7"/>
<rect x="4784" y="2642" width="154" height="77" fill="#ff0"/>
<rect x="4784" y="2780" width="154" height="60" fill="#ff0"/>
<path d="M4784 2642H4938M4784 2719H4938M4784 2780H4938M4784 2840H4938M4784 2883H4938" stroke="#000" stroke-width="6"/>
<rect x="4787.5" y="1908.5" width="147" height="1026" fill="none" stroke="#000" stroke-width="7"/>
<text class="m" font-size="37" transform="translate(4835,2273) rotate(-90)" dy=".35em">Compartiment gestionare proiecte</text>
<text class="m" font-size="37" transform="translate(4890,2273) rotate(-90)" dy=".35em">europene</text>
<g class="m" font-size="34"><text x="4861" y="2680" dy=".35em">6</text><text x="4861" y="2810" dy=".35em">6</text></g>
<!-- e3 -->
<rect x="5060" y="1905" width="156" height="1033" fill="#e6b8b7"/>
<rect x="5060" y="2642" width="156" height="77" fill="#ff0"/>
<rect x="5060" y="2780" width="156" height="60" fill="#ff0"/>
<path d="M5060 2642H5216M5060 2719H5216M5060 2780H5216M5060 2840H5216M5060 2883H5216" stroke="#000" stroke-width="6"/>
<rect x="5063.5" y="1908.5" width="149" height="1026" fill="none" stroke="#000" stroke-width="7"/>
<text class="m" font-size="37" transform="translate(5113,2273) rotate(-90)" dy=".35em">Compartiment bugete și monitorizare</text>
<text class="m" font-size="37" transform="translate(5168,2273) rotate(-90)" dy=".35em">instituții subordonate</text>
<g class="m" font-size="34"><text x="5138" y="2680" dy=".35em">4</text><text x="5138" y="2810" dy=".35em">4</text></g>
<!-- e4 -->
<rect x="5301" y="1905" width="159" height="1033" fill="#e6b8b7"/>
<rect x="5301" y="2642" width="159" height="77" fill="#ff0"/>
<rect x="5301" y="2780" width="159" height="60" fill="#ff0"/>
<path d="M5301 2642H5460M5301 2719H5460M5301 2780H5460M5301 2840H5460M5301 2883H5460" stroke="#000" stroke-width="6"/>
<rect x="5304.5" y="1908.5" width="152" height="1026" fill="none" stroke="#000" stroke-width="7"/>
<text class="m" font-size="37" transform="translate(5381,2273) rotate(-90)" dy=".35em">Compartiment venituri</text>
<g class="m" font-size="34"><text x="5380" y="2680" dy=".35em">2</text><text x="5380" y="2810" dy=".35em">2</text></g>
<!-- e5 -->
<rect x="5552" y="1905" width="228" height="1033" fill="#e6b8b7"/>
<rect x="5552" y="2642" width="228" height="77" fill="#ff0"/>
<rect x="5552" y="2780" width="228" height="60" fill="#ff0"/>
<path d="M5552 2642H5780M5552 2719H5780M5552 2780H5780M5552 2840H5780M5552 2883H5780" stroke="#000" stroke-width="6"/>
<rect x="5555.5" y="1908.5" width="221" height="1026" fill="none" stroke="#000" stroke-width="7"/>
<text class="m" font-size="37" transform="translate(5585,2273) rotate(-90)" dy=".35em">Compartiment gestiune finanțări proiecte,</text>
<text class="m" font-size="37" transform="translate(5641,2273) rotate(-90)" dy=".35em">UAT-uri, servicii sociale, sănătate,</text>
<text class="m" font-size="37" transform="translate(5694,2273) rotate(-90)" dy=".35em">educație, sport, culte și gestiune structuri</text>
<text class="m" font-size="37" transform="translate(5749,2273) rotate(-90)" dy=".35em">asociative</text>
<g class="m" font-size="34"><text x="5666" y="2680" dy=".35em">8</text><text x="5666" y="2810" dy=".35em">8</text></g>
<!-- e6 -->
<rect x="5846" y="1905" width="138" height="1033" fill="#e6b8b7"/>
<rect x="5846" y="2642" width="138" height="77" fill="#ff0"/>
<rect x="5846" y="2780" width="138" height="60" fill="#ff0"/>
<path d="M5846 2642H5984" stroke="#000" stroke-width="6"/>
<path d="M5846 2719H5984M5846 2780H5984M5846 2840H5984M5846 2883H5984" stroke="#1f3864" stroke-width="6"/>
<rect x="5849.5" y="1908.5" width="131" height="1026" fill="none" stroke="#000" stroke-width="7"/>
<text class="m" font-size="37" transform="translate(5916,2273) rotate(-90)" dy=".35em">Compartiment gestiune și aprovizionare</text>
<g class="m" font-size="34"><text x="5915" y="2680" dy=".35em">2</text><text x="5915" y="2810" dy=".35em">2</text></g>
<!-- e7 -->
<rect x="6092" y="1905" width="134" height="1033" fill="#e6b8b7"/>
<rect x="6092" y="2642" width="134" height="77" fill="#ff0"/>
<rect x="6092" y="2883" width="134" height="55" fill="#ff0"/>
<path d="M6092 2642H6226" stroke="#000" stroke-width="6"/>
<path d="M6092 2719H6226M6092 2780H6226M6092 2840H6226M6092 2883H6226" stroke="#1f3864" stroke-width="6"/>
<rect x="6095.5" y="1908.5" width="127" height="1026" fill="none" stroke="#000" stroke-width="7"/>
<text class="m" font-size="37" transform="translate(6161,2273) rotate(-90)" dy=".35em">Compartiment admministrativ</text>
<g class="m" font-size="34"><text x="6159" y="2680" dy=".35em">10</text><text x="6159" y="2910" dy=".35em">10</text></g>

<!-- ===== BOTTOM LEFT ROWS ===== -->
<!-- r1 -->
<rect x="108" y="3360" width="1587" height="128" fill="#fff"/>
<rect x="1113" y="3360" width="165" height="128" fill="#ff0"/><rect x="1370" y="3360" width="157" height="128" fill="#ff0"/>
<path d="M1113 3360V3488M1278 3360V3488M1370 3360V3488M1527 3360V3488M1610 3360V3488" stroke="#4f81bd" stroke-width="6"/>
<rect x="111.5" y="3363.5" width="1580" height="121" fill="none" stroke="#4f81bd" stroke-width="7"/>
<text x="118" y="3424" dy=".35em" font-size="38">Compartiment corp control, control intern managerial</text>
<text class="m" x="1195" y="3424" dy=".35em" font-size="34">3</text><text class="m" x="1448" y="3424" dy=".35em" font-size="34">3</text>
<!-- r2 -->
<rect x="108" y="3527" width="1587" height="119" fill="#fff"/>
<rect x="1113" y="3527" width="165" height="119" fill="#ff0"/><rect x="1370" y="3527" width="157" height="119" fill="#ff0"/>
<path d="M1113 3527V3646M1278 3527V3646M1370 3527V3646M1527 3527V3646M1610 3527V3646" stroke="#4f81bd" stroke-width="6"/>
<rect x="111.5" y="3530.5" width="1580" height="112" fill="none" stroke="#4f81bd" stroke-width="7"/>
<text x="118" y="3587" dy=".35em" font-size="38">Compartiment audit intern</text>
<text class="m" x="1195" y="3587" dy=".35em" font-size="34">2</text><text class="m" x="1448" y="3587" dy=".35em" font-size="34">2</text>
<!-- r3 -->
<rect x="108" y="3713" width="1587" height="113" fill="#fff"/>
<rect x="1113" y="3713" width="165" height="113" fill="#ff0"/><rect x="1370" y="3713" width="157" height="113" fill="#ff0"/>
<path d="M1113 3713V3826M1278 3713V3826M1370 3713V3826M1527 3713V3826M1610 3713V3826" stroke="#4f81bd" stroke-width="6"/>
<rect x="111.5" y="3716.5" width="1580" height="106" fill="none" stroke="#4f81bd" stroke-width="7"/>
<text x="118" y="3769" dy=".35em" font-size="38">Compartiment managementul calității</text>
<text class="m" x="1195" y="3771" dy=".35em" font-size="34">1</text><text class="m" x="1448" y="3771" dy=".35em" font-size="34">1</text>
<!-- r4 -->
<rect x="108" y="3896" width="1587" height="143" fill="#fff"/>
<rect x="1113" y="3896" width="414" height="143" fill="#ff0"/>
<path d="M1113 3896V4039M1278 3896V4039M1370 3896V4039M1527 3896V4039M1610 3896V4039" stroke="#4f81bd" stroke-width="6"/>
<rect x="111.5" y="3899.5" width="1580" height="136" fill="none" stroke="#4f81bd" stroke-width="7"/>
<text x="118" y="3941" dy=".35em" font-size="38">Birou relații publice,  secretariat ATOP și relații</text>
<text x="118" y="3995" dy=".35em" font-size="38">internaționale</text>
<text class="m" x="1195" y="3968" dy=".35em" font-size="34">14</text><text class="m" x="1324" y="3968" dy=".35em" font-size="34">1</text><text class="m" x="1448" y="3968" dy=".35em" font-size="34">13</text>
<!-- r5 -->
<rect x="108" y="4092" width="1587" height="115" fill="#fff"/>
<rect x="1113" y="4092" width="414" height="115" fill="#ff0"/><rect x="1610" y="4092" width="85" height="115" fill="#ff0"/>
<path d="M1113 4092V4207M1278 4092V4207M1370 4092V4207M1527 4092V4207M1610 4092V4207" stroke="#4f81bd" stroke-width="6"/>
<rect x="111.5" y="4095.5" width="1580" height="108" fill="none" stroke="#4f81bd" stroke-width="7"/>
<text x="118" y="4150" dy=".35em" font-size="38">Birou turism și promovarea județului</text>
<text class="m" x="1195" y="4150" dy=".35em" font-size="34">6</text><text class="m" x="1324" y="4150" dy=".35em" font-size="34">1</text><text class="m" x="1448" y="4150" dy=".35em" font-size="34">4</text><text class="m" x="1652" y="4150" dy=".35em" font-size="34">1</text>
<!-- r6 -->
<rect x="108" y="4267" width="1587" height="113" fill="#fff"/>
<rect x="1113" y="4267" width="414" height="113" fill="#ff0"/>
<path d="M1113 4267V4380M1278 4267V4380M1370 4267V4380M1527 4267V4380M1610 4267V4380" stroke="#4f81bd" stroke-width="6"/>
<rect x="111.5" y="4270.5" width="1580" height="106" fill="none" stroke="#4f81bd" stroke-width="7"/>
<text x="118" y="4323" dy=".35em" font-size="38">Serviciul achiziții publice</text>
<text class="m" x="1195" y="4325" dy=".35em" font-size="34">8</text><text class="m" x="1324" y="4325" dy=".35em" font-size="34" style="fill:#2a7a2a">1</text><text class="m" x="1448" y="4325" dy=".35em" font-size="34" style="fill:#2a7a2a">7</text>
<!-- r7 -->
<rect x="108" y="4445" width="1587" height="104" fill="#fff"/>
<rect x="1113" y="4445" width="165" height="104" fill="#ff0"/><rect x="1370" y="4445" width="157" height="104" fill="#ff0"/>
<path d="M1113 4445V4549M1278 4445V4549M1370 4445V4549M1527 4445V4549M1610 4445V4549" stroke="#4f81bd" stroke-width="6"/>
<rect x="111.5" y="4448.5" width="1580" height="97" fill="none" stroke="#4f81bd" stroke-width="7"/>
<text x="118" y="4497" dy=".35em" font-size="38">Compartiment IT</text>
<text class="m" x="1195" y="4499" dy=".35em" font-size="34" style="fill:#2a7a2a">3</text><text class="m" x="1448" y="4499" dy=".35em" font-size="34" style="fill:#2a7a2a">3</text>
<!-- r8 -->
<rect x="108" y="4589" width="1587" height="129" fill="#fff"/>
<rect x="1113" y="4589" width="165" height="129" fill="#ff0"/><rect x="1370" y="4589" width="157" height="129" fill="#ff0"/><rect x="1610" y="4589" width="85" height="129" fill="#ff0"/>
<path d="M1113 4589V4718M1278 4589V4718M1370 4589V4718M1527 4589V4718M1610 4589V4718" stroke="#4f81bd" stroke-width="6"/>
<rect x="111.5" y="4592.5" width="1580" height="122" fill="none" stroke="#4f81bd" stroke-width="7"/>
<text x="118" y="4653" dy=".35em" font-size="38">Compartiment comunicare, relații cu presa</text>
<text class="m" x="1195" y="4655" dy=".35em" font-size="34" style="fill:#2a7a2a">3</text><text class="m" x="1448" y="4655" dy=".35em" font-size="34">3</text>

<!-- ===== TOTALS ===== -->
<rect x="6076.5" y="3645.5" width="1193" height="1070" fill="#fff" stroke="#000" stroke-width="3"/>
<path d="M6075 4591H7271" stroke="#000" stroke-width="3"/>
<path d="M6093 3824V4094M6093 4269V4447" stroke="#000" stroke-width="3.5"/>
<g font-size="32" font-weight="bold">
<text x="6085" y="3681" dy=".35em">TOTAL FUNCȚII PUBLICE</text>
<text x="6085" y="4152" dy=".35em">TOTAL FUNCȚII CONTRACTUALE</text>
<text x="6085" y="4500" dy=".35em">FUNCȚII DE DEMNITATE PUBLICĂ</text>
<text x="6085" y="4572" dy=".35em">TOTAL GENERAL</text>
<text class="m" x="7197" y="3681" dy=".35em">157</text>
<text class="m" x="7197" y="4152" dy=".35em">32</text>
<text class="m" x="7197" y="4500" dy=".35em">3</text>
<text class="m" x="7197" y="4572" dy=".35em">192</text>
</g>
<g font-size="35">
<text x="6085" y="3771" dy=".35em">Din care:</text>
<text x="6085" y="4241" dy=".35em">Din care:</text>
<text x="6102" y="3864" dy=".35em">Secretarul general al județului</text>
<text x="6102" y="3969" dy=".35em">Funcții publice de conducere</text>
<text x="6102" y="4067" dy=".35em">Funcții publice de execuție</text>
<text x="6102" y="4325" dy=".35em">Posturi contractuale de conducere</text>
<text x="6102" y="4414" dy=".35em">Posturi contractuale de execuție</text>
<text class="m" x="7197" y="3864" dy=".35em">1</text>
<text class="m" x="7197" y="3969" dy=".35em">17</text>
<text class="m" x="7197" y="4067" dy=".35em">139</text>
<text class="m" x="7197" y="4325" dy=".35em">3</text>
<text class="m" x="7197" y="4414" dy=".35em">29</text>
</g>

<!-- bottom right -->
<rect x="6075" y="4749" width="1421" height="138" fill="#fff"/>
<rect x="6898" y="4749" width="126" height="138" fill="#ff0"/>
<rect x="7346" y="4749" width="150" height="138" fill="#ff0"/>
<path d="M6898 4749V4887M7024 4749V4887M7118 4749V4887M7271 4749V4887M7346 4749V4887" stroke="#4f81bd" stroke-width="6"/>
<rect x="6078.5" y="4752.5" width="1414" height="131" fill="none" stroke="#4f81bd" stroke-width="7"/>
<text x="6085" y="4792" dy=".35em" font-size="37">Posturi contractuale în afara organigramei -</text>
<text x="6085" y="4846" dy=".35em" font-size="37">implementare proiecte</text>
<text class="m" x="6961" y="4818" dy=".35em" font-size="36" style="fill:#2a7a2a">10</text>
<text class="m" x="7421" y="4818" dy=".35em" font-size="36">10</text>
</svg>
</body>
</html>
